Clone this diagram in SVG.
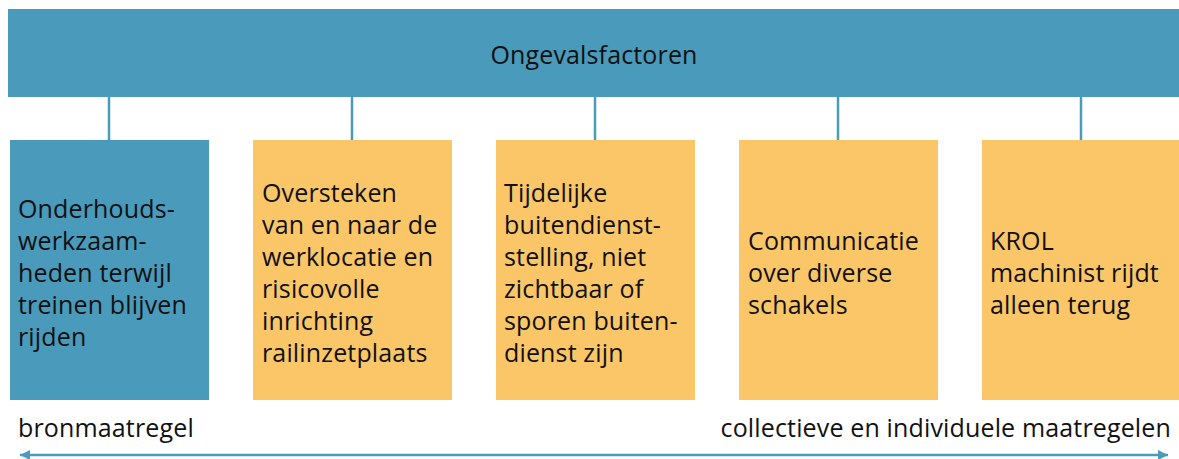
<svg xmlns="http://www.w3.org/2000/svg" width="1179" height="459" viewBox="0 0 1179 459">
<style>
.blue{fill:#4A9ABB}
.yellow{fill:#FBC668}
text{font-family:"Open Sans","Noto Sans",sans-serif;font-size:25px;letter-spacing:0.15px;fill:#111}
.conn{stroke:#4A9ABB;stroke-width:2.5;fill:none}
</style>
<defs>
<marker id="ah" viewBox="0 0 10 10" refX="10" refY="5" markerWidth="11" markerHeight="10" markerUnits="userSpaceOnUse" orient="auto-start-reverse">
<path d="M0,0 L10,5 L0,10 Z" fill="#4A9ABB"/>
</marker>
</defs>
<g id="top">
<rect class="blue" x="8" y="9" width="1171" height="88"/>
<text x="594" y="64" text-anchor="middle">Ongevalsfactoren</text>
</g>
<g id="connectors">
<line class="conn" x1="109" y1="97" x2="109" y2="140"/>
<line class="conn" x1="352" y1="97" x2="352" y2="140"/>
<line class="conn" x1="595" y1="97" x2="595" y2="140"/>
<line class="conn" x1="838" y1="97" x2="838" y2="140"/>
<line class="conn" x1="1081" y1="97" x2="1081" y2="140"/>
<line class="conn" x1="20" y1="455" x2="1168" y2="455" marker-start="url(#ah)" marker-end="url(#ah)"/>
</g>
<g id="n1">
<rect class="blue" x="10" y="140" width="199" height="260"/>
<text x="18" y="218">Onderhouds-</text>
<text x="18" y="250">werkzaam-</text>
<text x="18" y="282">heden terwijl</text>
<text x="18" y="314">treinen blijven</text>
<text x="18" y="346">rijden</text>
</g>
<g id="n2">
<rect class="yellow" x="253" y="140" width="199" height="260"/>
<text x="262" y="202">Oversteken</text>
<text x="262" y="234">van en naar de</text>
<text x="262" y="266">werklocatie en</text>
<text x="262" y="298">risicovolle</text>
<text x="262" y="330">inrichting</text>
<text x="262" y="362">railinzetplaats</text>
</g>
<g id="n3">
<rect class="yellow" x="496" y="140" width="199" height="260"/>
<text x="504" y="202">Tijdelijke</text>
<text x="504" y="234">buitendienst-</text>
<text x="504" y="266">stelling, niet</text>
<text x="504" y="298">zichtbaar of</text>
<text x="504" y="330">sporen buiten-</text>
<text x="504" y="362">dienst zijn</text>
</g>
<g id="n4">
<rect class="yellow" x="739" y="140" width="199" height="260"/>
<text x="748" y="250">Communicatie</text>
<text x="748" y="282">over diverse</text>
<text x="748" y="314">schakels</text>
</g>
<g id="n5">
<rect class="yellow" x="982" y="140" width="199" height="260"/>
<text x="990" y="250">KROL</text>
<text x="990" y="282">machinist rijdt</text>
<text x="990" y="314">alleen terug</text>
</g>
<g id="labels">
<text x="18" y="437">bronmaatregel</text>
<text x="1171" y="437" text-anchor="end">collectieve en individuele maatregelen</text>
</g>
</svg>
